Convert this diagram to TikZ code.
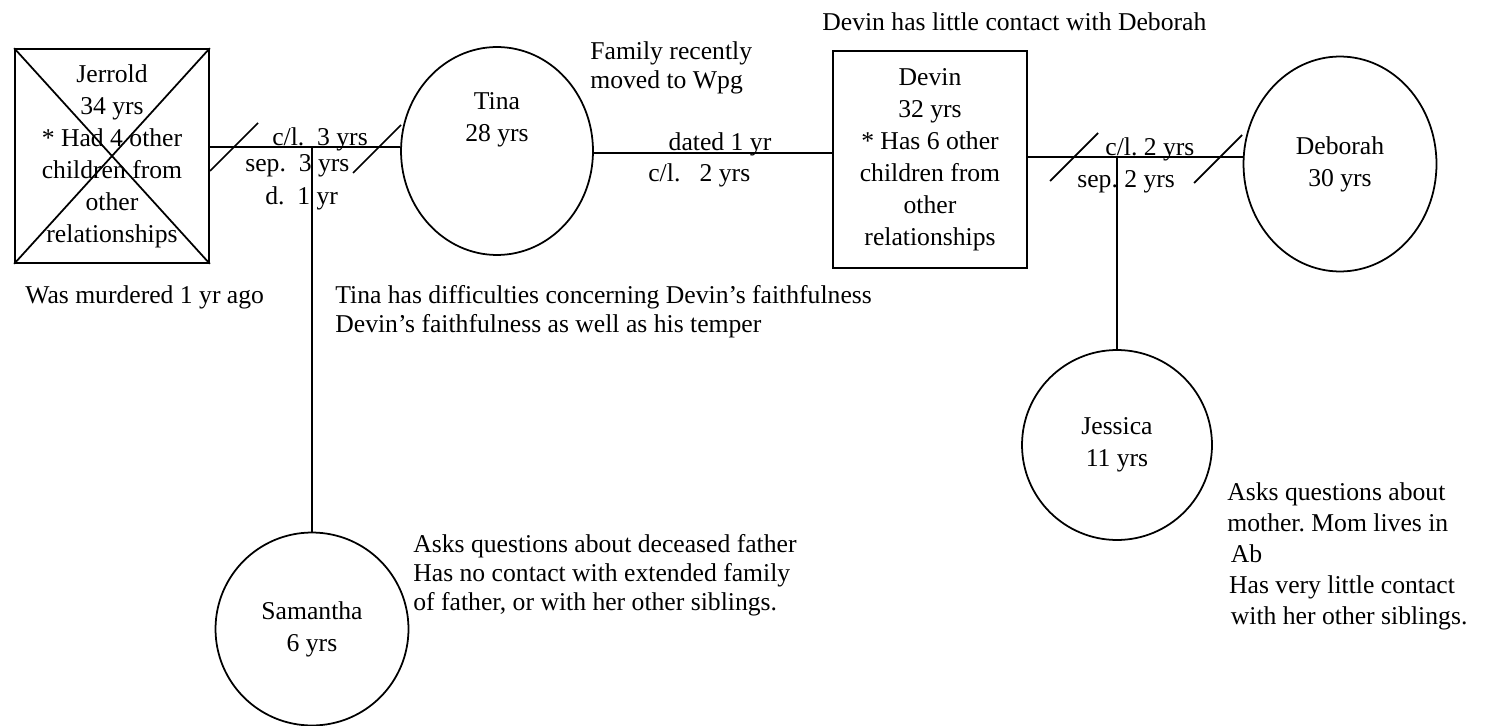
\documentclass[tikz,border=0pt]{standalone}
\usepackage{fontspec}
\setmainfont{Liberation Serif}
\usetikzlibrary{shapes.geometric}
\usetikzlibrary{calc}

\tikzset{
  person/.style={draw, line width=1pt, align=center, inner sep=0pt, font=\fontsize{14.6}{18.2}\selectfont},
  persontext/.style={align=center, inner sep=0pt, font=\fontsize{14.6}{18.2}\selectfont},
  note/.style={align=left, inner sep=0pt, anchor=west, font=\fontsize{14.6}{16.5}\selectfont},
  linetag/.style={inner sep=0pt, font=\fontsize{14.6}{16.5}\selectfont},
  tie/.style={line width=1pt},
}

\begin{document}
\begin{tikzpicture}[x=0.02cm, y=-0.02cm]

    \useasboundingbox (0,0) rectangle (1494,726);

    % Define the heights of the couple lines
    \def\jty{147}   % Jerrold -- Tina
    \def\tdy{153}   % Tina -- Devin
    \def\ddy{157}   % Devin -- Deborah
    \coordinate (jt) at (0,\jty);
    \coordinate (td) at (0,\tdy);
    \coordinate (dd) at (0,\ddy);

    % Draw the people
    \node[person, rectangle, minimum width=3.88cm, minimum height=4.28cm] (jerrold) at (112,156) {Jerrold\\34 yrs\\* Had 4 other\\children from\\other\\relationships};
    \node[person, ellipse, minimum width=3.84cm, minimum height=4.16cm] (tina) at (497,151) {};
    \node[persontext] (tinaname) at (497,120) {Tina\\28 yrs};
    \node[person, rectangle, minimum width=3.88cm, minimum height=4.34cm] (devin) at (930,159.5) {Devin\\32 yrs\\* Has 6 other\\children from\\other\\relationships};
    \node[person, ellipse, minimum width=3.86cm, minimum height=4.3cm] (deborah) at (1340,164) {Deborah\\30 yrs};
    \node[person, circle, minimum size=3.86cm] (samantha) at (312,629) {Samantha\\6 yrs};
    \node[person, circle, minimum size=3.8cm] (jessica) at (1117,445) {Jessica\\11 yrs};

    % Cross out the deceased
    \draw[tie] (jerrold.north west) -- (jerrold.south east);
    \draw[tie] (jerrold.north east) -- (jerrold.south west);

    % Draw the couple lines
    \draw[tie] (jerrold.east |- jt) -- (tina.west |- jt);
    \draw[tie] (tina.east |- td) -- (devin.west |- td);
    \draw[tie] (devin.east |- dd) -- (deborah.west |- dd);

    % Separation marks
    \foreach \cx/\cy in {234/147, 377/149, 1074/157, 1218/159}
        \draw[tie] (\cx-24,\cy+24) -- (\cx+24,\cy-24);

    % Draw the child lines
    \draw[tie] (samantha.north |- jt) -- (samantha.north);
    \draw[tie] (jessica.north |- dd) -- (jessica.north);

    % Labels on the couple lines
    \node[linetag, anchor=base] (jtcl) at (320,146) {c/l.\ \ 3 yrs};
    \node[linetag, anchor=base west] (jtsep) at (245,172) {sep.\ \ 3 yrs};
    \node[linetag, anchor=base west] (jtd) at (265,205) {d.\ \ 1 yr};
    \node[linetag, anchor=base] (tddated) at (720,151) {dated 1 yr};
    \node[linetag, anchor=base west] (tdcl) at (648,182) {c/l.\ \ \ 2 yrs};
    \node[linetag, anchor=base west] (ddcl) at (1105,156) {c/l.\ 2 yrs};
    \node[linetag, anchor=base west] (ddsep) at (1077,188) {sep.\ 2 yrs};

    % Notes
    \node[note] (murdered) at (25,297) {Was murdered 1 yr ago};
    \node[note] (moved) at (590,67.5) {Family recently\\moved to Wpg};
    \node[note] (contact) at (822,22) {Devin has little contact with Deborah};
    \node[note] (tinanote) at (335,311.5) {Tina has difficulties concerning Devin’s faithfulness\\Devin’s faithfulness as well as his temper};
    \node[note] (samnote) at (413,575) {Asks questions about deceased father\\Has no contact with extended family\\of father, or with her other siblings.};
    \node[note, font=\fontsize{14.6}{17.6}\selectfont] (jesnote) at (1227,556.5) {Asks questions about\\mother.\ Mom lives in\\\hspace{2pt}Ab\\\hspace{1pt}Has very little contact\\\hspace{2pt}with her other siblings.};

\end{tikzpicture}
\end{document}
